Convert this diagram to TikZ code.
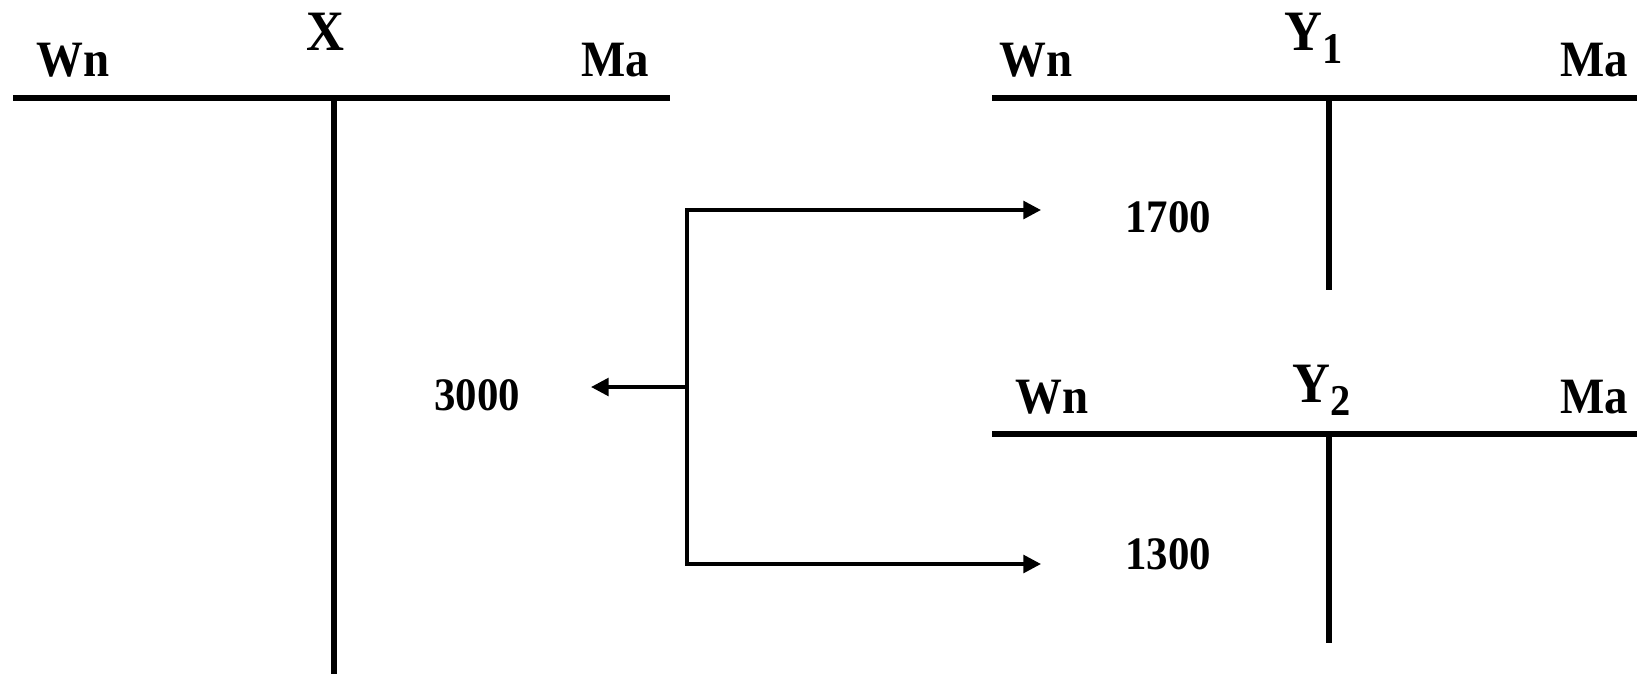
\documentclass[tikz,border=0pt]{standalone}
\usepackage{fontspec}
\setmainfont{Liberation Serif}[FakeStretch=0.92]
\usepackage{tikz}
\usetikzlibrary{arrows.meta}

\tikzstyle{acct} = [line width=2.9pt]
\tikzstyle{flow} = [line width=2.1pt, line join=miter]
\tikzstyle{side} = [anchor=base, inner sep=0pt, font=\fontsize{29}{29}\selectfont\bfseries]
\tikzstyle{title} = [anchor=base, inner sep=0pt, font=\fontsize{32.5}{32.5}\selectfont\bfseries]
\tikzstyle{amount} = [anchor=base, inner sep=0pt, font=\fontsize{26.5}{26.5}\selectfont\bfseries]
\newcommand{\lowsub}[1]{\raisebox{-0.24em}{\fontsize{25}{25}\selectfont #1}}

\begin{document}
\begin{tikzpicture}[x=0.02cm, y=-0.02cm, >={Triangle[length=10pt,width=10pt]}]
        \useasboundingbox (0,0) rectangle (1637,674);
        % account X
        \coordinate (xl) at (13,98);
        \coordinate (xr) at (670,98);
        \coordinate (xt) at (334,98);
        \coordinate (xb) at (334,674);
        \draw [acct] (xl) -- (xr);
        \draw [acct] (xt) -- (xb);
        \node [side] (xwn) at (73,76) {Wn};
        \node [title] (xname) at (325,50) {X};
        \node [side] (xma) at (615,76) {Ma};
        % account Y1
        \coordinate (al) at (992,98);
        \coordinate (ar) at (1637,98);
        \coordinate (at) at (1329,98);
        \coordinate (ab) at (1329,290);
        \draw [acct] (al) -- (ar);
        \draw [acct] (at) -- (ab);
        \node [side] (awn) at (1036,76) {Wn};
        \node [title] (aname) at (1314,50) {Y\lowsub{1}};
        \node [side] (ama) at (1594,76) {Ma};
        % account Y2
        \coordinate (bl) at (992,434);
        \coordinate (br) at (1637,434);
        \coordinate (bt) at (1329,434);
        \coordinate (bb) at (1329,643);
        \draw [acct] (bl) -- (br);
        \draw [acct] (bt) -- (bb);
        \node [side] (bwn) at (1052,413) {Wn};
        \node [title] (bname) at (1322,402) {Y\lowsub{2}};
        \node [side] (bma) at (1594,413) {Ma};
        % amounts
        \node [amount] (total) at (477,410) {3000};
        \node [amount] (parta) at (1168,232) {1700};
        \node [amount] (partb) at (1168,569) {1300};
        % split
        \coordinate (stop) at (687,210);
        \coordinate (sbot) at (687,564);
        \coordinate (smid) at (687,387);
        \coordinate (ea) at (1041,210);
        \coordinate (eb) at (1041,564);
        \coordinate (ex) at (591,387);
        \draw [flow, <->] (ea) -- (stop) -- (sbot) -- (eb);
        \draw [flow, ->] (smid) -- (ex);
\end{tikzpicture}
\end{document}
